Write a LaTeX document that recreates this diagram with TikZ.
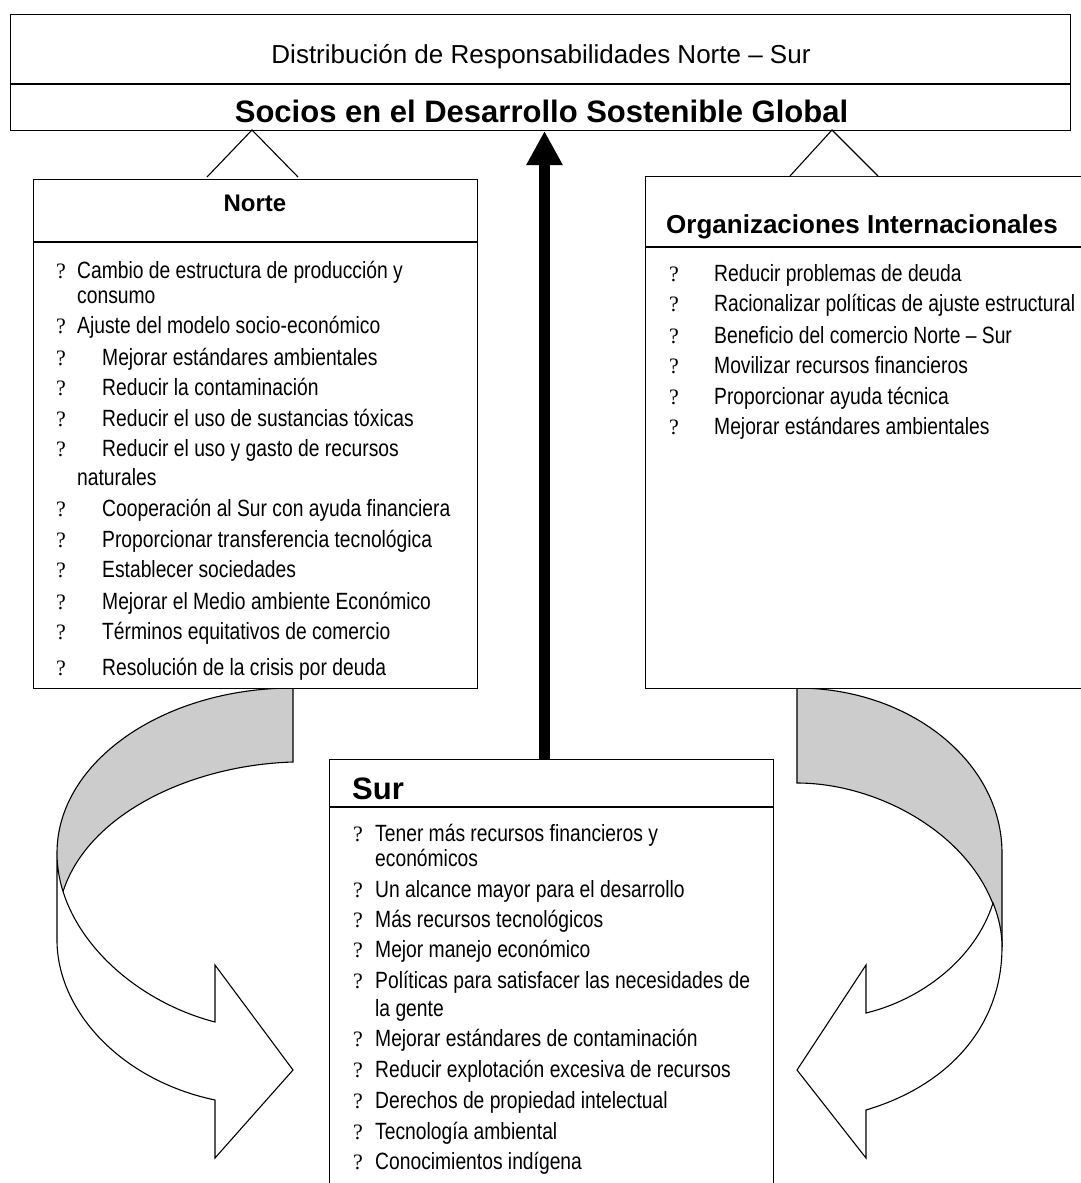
\documentclass[tikz,border=0pt]{standalone}
\usepackage{fontspec}
\setmainfont{Liberation Sans}
\newfontfamily\narrowf[FakeStretch=0.82]{Liberation Sans}
\newfontfamily\qmarkf{Liberation Serif}
\usetikzlibrary{arrows.meta}
\begin{document}
\begin{tikzpicture}[x=1pt,y=-1pt,
  box/.style={draw, line width=1.3pt, fill=white, inner sep=0pt, anchor=north west},
  rule/.style={line width=1.3pt},
  itm/.style={anchor=base west, inner sep=0pt, font=\narrowf\fontsize{23.5}{26}\selectfont},
  qm/.style={anchor=base west, inner sep=0pt, font=\qmarkf\fontsize{22}{26}\selectfont},
  hdr/.style={inner sep=0pt, font=\bfseries\fontsize{#1}{#1}\selectfont},
  band/.style={fill=black!20},
  bandline/.style={line width=1.1pt},
  front/.style={draw, fill=white, line width=1.1pt, line join=miter},
  tri/.style={draw, fill=white, line width=1.1pt}
]
\clip (0,0) rectangle (1081,1183);
\fill[white] (0,0) rectangle (1081,1183);

% ---------- curved arrows (behind boxes) ----------
% left
\fill[band] (293,688) .. controls (163,688) and (57,762) .. (57,853) -- (57,895) -- (62,895)
   .. controls (85,815) and (190,765) .. (293,762) -- cycle;
\draw[bandline] (293,688) .. controls (163,688) and (57,762) .. (57,853);
\draw[bandline] (62,895) .. controls (85,815) and (190,765) .. (293,762) -- (293,688);
\draw[front] (57,853) -- (57,940) .. controls (57,1010) and (120,1080) .. (215,1100)
   -- (215,1158) -- (293,1070) -- (215,965) -- (215,1022)
   .. controls (130,1000) and (57,930) .. (57,853) -- cycle;
% right
\fill[band] (797,688) .. controls (910,688) and (1002,762) .. (1002,853) -- (1002,947)
   .. controls (998,850) and (890,783) .. (797,783) -- cycle;
\draw[bandline] (797,688) .. controls (910,688) and (1002,762) .. (1002,853) -- (1002,947);
\draw[bandline] (1002,947) .. controls (998,850) and (890,783) .. (797,783) -- (797,688);
\draw[front] (1002,947) .. controls (1002,1025) and (950,1085) .. (866,1110)
   -- (866,1158) -- (797,1070) -- (866,965) -- (866,1013)
   .. controls (920,1000) and (975,960) .. (993,903)
   .. controls (999,918) and (1002,932) .. (1002,947) -- cycle;

% ---------- boxes ----------
\node[box, minimum width=1060pt, minimum height=116pt] (top) at (10,14) {};
\draw[rule] (10,84) -- (1070,84);
\node[box, minimum width=444pt, minimum height=509pt] (norte) at (33,179) {};
\draw[rule] (33,242) -- (477,242);
\node[box, minimum width=460pt, minimum height=512pt] (oi) at (645,176) {};
\draw[rule] (645,247) -- (1105,247);
\node[box, minimum width=444pt, minimum height=460pt] (sur) at (329,759) {};
\draw[rule] (329,807) -- (773,807);

% ---------- triangles ----------
\draw[tri] (207,177) -- (252,130) -- (298,177);
\draw[tri] (790,176) -- (832,130) -- (878,176);

% ---------- main arrow ----------
\coordinate (arrS) at (544.5,759);
\coordinate (arrT) at (544.5,131);
\draw[line width=11pt, -{Triangle[width=34pt,length=34pt]}] (arrS) -- (arrT);

% ---------- titles ----------
\node[anchor=base, inner sep=0pt, font=\fontsize{26}{30}\selectfont] (title) at (541,63)
  {Distribución de Responsabilidades Norte – Sur};
\node[anchor=base, hdr=31] (socios) at (541.5,122) {Socios en el Desarrollo Sostenible Global};
\node[anchor=base, hdr=24] (hn) at (255,211) {Norte};
\node[anchor=base west, hdr=26] (ho) at (666,233) {Organizaciones Internacionales};
\node[anchor=base west, hdr=31] (hs) at (352,799) {Sur};

% ---------- Norte items ----------
\foreach \y [count=\i] in {278,333,365,395,426,456,516,547,577,609,639,675}
  \node[qm] (nq\i) at (56,\y) {?};
\foreach \x/\y/\t [count=\i] in {
  77/278/{Cambio de estructura de producción y},
  77/303/{consumo},
  77/333/{Ajuste del modelo socio-económico},
  102/365/{Mejorar estándares ambientales},
  102/395/{Reducir la contaminación},
  102/426/{Reducir el uso de sustancias tóxicas},
  102/456/{Reducir el uso y gasto de recursos},
  77/485/{naturales},
  102/516/{Cooperación al Sur con ayuda financiera},
  102/547/{Proporcionar transferencia tecnológica},
  102/577/{Establecer sociedades},
  102/609/{Mejorar el Medio ambiente Económico},
  102/639/{Términos equitativos de comercio},
  102/675/{Resolución de la crisis por deuda}}
  \node[itm] (nt\i) at (\x,\y) {\t};

% ---------- OI items ----------
\foreach \y/\t [count=\i] in {
  281/{Reducir problemas de deuda},
  311/{Racionalizar políticas de ajuste estructural},
  343/{Beneficio del comercio Norte – Sur},
  373/{Movilizar recursos financieros},
  404/{Proporcionar ayuda técnica},
  434/{Mejorar estándares ambientales}}
{
  \node[qm] (oq\i) at (669,\y) {?};
  \node[itm] (ot\i) at (714,\y) {\t};
}

% ---------- Sur items ----------
\foreach \y [count=\i] in {841,897,927,957,988,1046,1077,1108,1139,1169}
  \node[qm] (sq\i) at (353,\y) {?};
\foreach \y/\t [count=\i] in {
  841/{Tener más recursos financieros y},
  866/{económicos},
  897/{Un alcance mayor para el desarrollo},
  927/{Más recursos tecnológicos},
  957/{Mejor manejo económico},
  988/{Políticas para satisfacer las necesidades de},
  1016/{la gente},
  1046/{Mejorar estándares de contaminación},
  1077/{Reducir explotación excesiva de recursos},
  1108/{Derechos de propiedad intelectual},
  1139/{Tecnología ambiental},
  1169/{Conocimientos indígena}}
  \node[itm] (st\i) at (375,\y) {\t};
\end{tikzpicture}
\end{document}
